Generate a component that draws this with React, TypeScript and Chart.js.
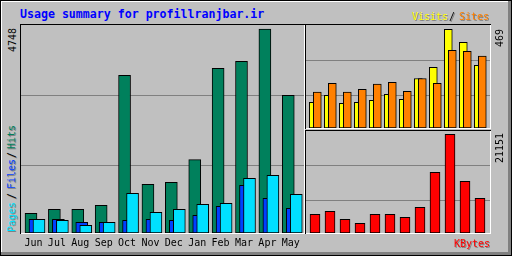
import React, { useEffect, useRef } from "react";
import { Chart, registerables } from "chart.js";
Chart.register(...registerables);

const months = ["Jun", "Jul", "Aug", "Sep", "Oct", "Nov", "Dec", "Jan", "Feb", "Mar", "Apr", "May"];
const hits = [458, 552, 552, 645, 3670, 1133, 1180, 1706, 3833, 3996, 4748, 3204];
const files = [319, 319, 249, 249, 296, 319, 296, 412, 621, 1110, 807, 575];
const pages = [319, 296, 179, 249, 924, 482, 552, 668, 691, 1273, 1343, 901];
const visits = [122, 155, 117, 122, 131, 160, 136, 235, 288, 469, 407, 298];
const sites = [170, 212, 170, 184, 208, 217, 174, 235, 212, 369, 364, 341];
const kbytes = [4007, 4650, 2936, 2079, 4007, 4007, 3365, 5508, 13008, 21151, 11079, 7436];
const maxLabels = ["4748", "469", "21151"];

const MONO = '"DejaVu Sans Mono", monospace';
const SHADOW = "#808080";

function yScale(max: number, lines: number[]) {
  return {
    type: "linear" as const,
    min: 0,
    max,
    display: true,
    ticks: { display: false },
    grid: { color: "#808080", lineWidth: 1, drawTicks: false },
    border: { display: false },
    afterBuildTicks: (s: any) => {
      s.ticks = lines.map((v) => ({ value: v }));
    },
    afterFit: (s: any) => {
      s.width = 0;
      s.paddingTop = 0;
      s.paddingBottom = 0;
    },
  };
}

const barCommon = {
  borderColor: "#000",
  borderWidth: 1,
  borderSkipped: false as const,
  grouped: false,
};

const baseOptions = {
  animation: false as const,
  responsive: false,
  devicePixelRatio: 1,
  layout: { padding: 0 },
  events: [] as any[],
  plugins: { legend: { display: false }, tooltip: { enabled: false }, title: { display: false } },
};

function mainConfig(): any {
  return {
    type: "bar",
    data: {
      datasets: [
        { ...barCommon, label: "Pages", order: 0, barThickness: 12, backgroundColor: "#00e0ff", data: pages.map((v, i) => ({ x: i + 0.342, y: v })) },
        { ...barCommon, label: "Files", order: 1, barThickness: 12, backgroundColor: "#0040ff", data: files.map((v, i) => ({ x: i + 0.171, y: v })) },
        { ...barCommon, label: "Hits", order: 2, barThickness: 12, backgroundColor: "#00805c", data: hits.map((v, i) => ({ x: i, y: v })) },
      ],
    },
    options: {
      ...baseOptions,
      scales: {
        x: {
          type: "linear",
          min: -0.4275,
          max: 11.672,
          offset: false,
          grid: { display: false, drawTicks: false, offset: false },
          border: { display: false },
          ticks: {
            font: { family: MONO, size: 10 },
            color: "#000",
            padding: 4,
            labelOffset: 2.5,
            maxRotation: 0,
            autoSkip: false,
            callback: (v: any) => months[v] ?? "",
          },
          afterBuildTicks: (s: any) => {
            s.ticks = months.map((_, i) => ({ value: i }));
          },
          afterFit: (s: any) => {
            s.height = 23;
            s.paddingLeft = 0;
            s.paddingRight = 0;
          },
        },
        y: yScale(4841, [1571, 3200]),
      },
    },
  };
}

function topRightConfig(): any {
  return {
    type: "bar",
    data: {
      datasets: [
        { ...barCommon, label: "Sites", order: 0, barThickness: 8, backgroundColor: "#ff8000", data: sites.map((v, i) => ({ x: i + 0.2667, y: v })) },
        { ...barCommon, label: "Visits", order: 1, barThickness: 8, backgroundColor: "#ffff00", data: visits.map((v, i) => ({ x: i, y: v })) },
      ],
    },
    options: {
      ...baseOptions,
      scales: {
        x: { type: "linear", min: -0.487, max: 11.78, offset: false, display: false },
        y: yScale(489, [154, 320.6]),
      },
    },
  };
}

function bottomRightConfig(): any {
  return {
    type: "bar",
    data: {
      datasets: [
        { ...barCommon, label: "KBytes", barThickness: 10, backgroundColor: "#ff0000", data: kbytes.map((v, i) => ({ x: i, y: v })) },
      ],
    },
    options: {
      ...baseOptions,
      scales: {
        x: { type: "linear", min: -0.6, max: 11.667, offset: false, display: false },
        y: yScale(21859, [6965, 14465]),
      },
    },
  };
}

function ChartCanvas(props: { left: number; top: number; width: number; height: number; config: () => any }) {
  const ref = useRef<HTMLCanvasElement>(null);
  useEffect(() => {
    const c = new Chart(ref.current as HTMLCanvasElement, props.config());
    return () => c.destroy();
  }, []);
  return (
    <canvas
      ref={ref}
      width={props.width}
      height={props.height}
      style={{ position: "absolute", left: props.left, top: props.top, width: props.width, height: props.height, display: "block" }}
    />
  );
}

function Box(p: { l: number; t: number; w: number; h: number; c: string }) {
  return <div style={{ position: "absolute", left: p.l, top: p.t, width: p.w, height: p.h, background: p.c }} />;
}

function Txt(p: { l: number; t: number; c: string; s?: boolean; children: any; bold?: boolean; size?: number }) {
  return (
    <div
      style={{
        position: "absolute",
        left: p.l,
        top: p.t,
        color: p.c,
        font: `${p.bold ? "bold " : ""}${p.size ?? 10}px ${MONO}`,
        lineHeight: `${p.size ?? 10}px`,
        whiteSpace: "pre",
        textShadow: p.s ? `1px 1px 0 ${SHADOW}` : "none",
      }}
    >
      {p.children}
    </div>
  );
}

// rotated text: pivot at (x, y) = text start; text runs upward
function Up(p: { x: number; y: number; parts: { o: number; text: string; c: string; s?: boolean }[] }) {
  return (
    <div
      style={{
        position: "absolute",
        left: p.x,
        top: p.y,
        width: 200,
        height: 10,
        transformOrigin: "0 0",
        transform: "rotate(-90deg)",
      }}
    >
      {p.parts.map((q, i) => (
        <span
          key={i}
          style={{
            position: "absolute",
            left: q.o,
            top: 0,
            color: q.c,
            font: `10px ${MONO}`,
            lineHeight: "10px",
            whiteSpace: "pre",
            textShadow: q.s ? `-1px 1px 0 ${SHADOW}` : "none",
          }}
        >
          {q.text}
        </span>
      ))}
    </div>
  );
}

export default function App() {
  return (
    <div style={{ position: "fixed", left: 0, top: 0, width: 512, height: 256, background: "#c0c0c0", overflow: "hidden" }}>
      {/* outer frame */}
      <Box l={0} t={0} w={512} h={256} c="#000" />
      <Box l={1} t={1} w={510} h={254} c="#808080" />
      <Box l={1} t={1} w={507} h={251} c="#ffffff" />
      <Box l={2} t={2} w={506} h={250} c="#c0c0c0" />

      {/* title */}
      <Txt l={20} t={9} c="#0000ff" bold size={11.6}>Usage summary for profillranjbar.ir</Txt>

      {/* main plot frame */}
      <Box l={20} t={24} w={285} h={210} c="#000" />
      <Box l={21} t={25} w={284} h={209} c="#ffffff" />
      <Box l={21} t={25} w={283} h={208} c="#c0c0c0" />

      {/* top-right frame */}
      <Box l={305} t={24} w={186} h={105} c="#000" />
      <Box l={306} t={25} w={185} h={104} c="#ffffff" />
      <Box l={306} t={25} w={184} h={103} c="#c0c0c0" />

      {/* bottom-right frame */}
      <Box l={305} t={130} w={186} h={104} c="#000" />
      <Box l={306} t={131} w={185} h={103} c="#ffffff" />
      <Box l={306} t={131} w={184} h={102} c="#c0c0c0" />

      <ChartCanvas left={21} top={25} width={283} height={231} config={mainConfig} />
      <ChartCanvas left={306} top={25} width={184} height={103} config={topRightConfig} />
      <ChartCanvas left={306} top={131} width={184} height={102} config={bottomRightConfig} />

      {/* legends */}
      <Txt l={412} t={12} c="#ffff00" s>Visits</Txt>
      <Txt l={449} t={12} c="#000" s>/</Txt>
      <Txt l={459} t={12} c="#ff8000" s>Sites</Txt>
      <Txt l={454} t={239} c="#ff0000" s>KBytes</Txt>

      <Up
        x={7}
        y={232}
        parts={[
          { o: 0, text: "Pages", c: "#00e0ff", s: true },
          { o: 33, text: "/", c: "#000", s: true },
          { o: 43, text: "Files", c: "#0040ff", s: true },
          { o: 74, text: "/", c: "#000", s: true },
          { o: 83, text: "Hits", c: "#00805c", s: true },
        ]}
      />
      <Up x={8} y={52} parts={[{ o: 0, text: maxLabels[0], c: "#000" }]} />
      <Up x={494.5} y={46.5} parts={[{ o: 0, text: maxLabels[1], c: "#000" }]} />
      <Up x={494.5} y={162.5} parts={[{ o: 0, text: maxLabels[2], c: "#000" }]} />
    </div>
  );
}
